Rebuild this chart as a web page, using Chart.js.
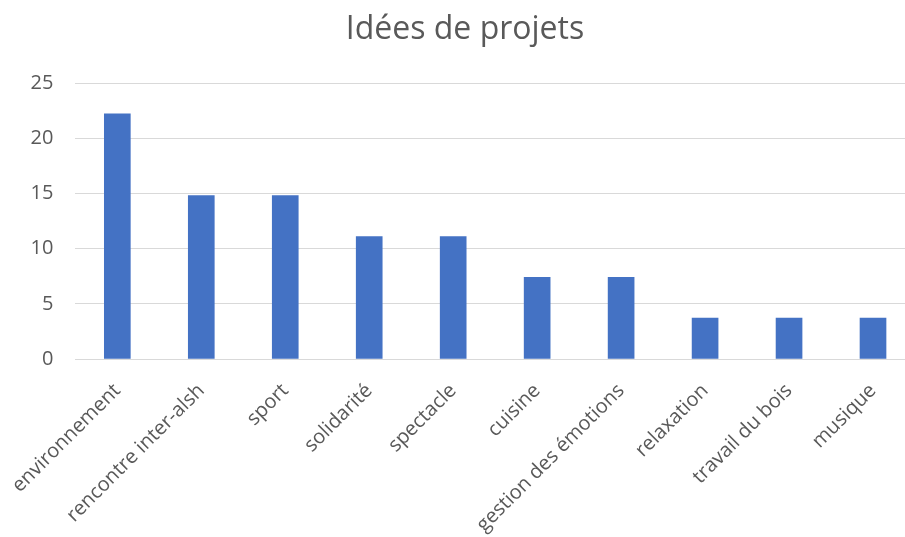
<!DOCTYPE html>
<html>
<head>
<meta charset="utf-8">
<script src="https://cdn.jsdelivr.net/npm/chart.js@4/dist/chart.umd.min.js"></script>
<style>
  html, body { margin: 0; padding: 0; background: #fff; overflow: hidden; }
  #wrap { width: 930px; height: 537px; }
</style>
</head>
<body>
<div id="wrap"><canvas id="chart" width="930" height="537"></canvas></div>
<script>
const categories = ['environnement', 'rencontre inter-alsh', 'sport', 'solidarité', 'spectacle',
  'cuisine', 'gestion des émotions', 'relaxation', 'travail du bois', 'musique'];
const values = [22.2, 14.8, 14.8, 11.1, 11.1, 7.4, 7.4, 3.7, 3.7, 3.7];
const yTicks = [0, 5, 10, 15, 20, 25];

const TEXT = '#595959';
const FONT = "'Open Sans', sans-serif";

const ctx = document.getElementById('chart').getContext('2d');
new Chart(ctx, {
  type: 'bar',
  data: {
    labels: categories,
    datasets: [{ data: values, backgroundColor: '#4472C4', barThickness: 26 }],
  },
  options: {
    responsive: false,
    animation: false,
    layout: { padding: 0 },
    plugins: {
      legend: { display: false },
      tooltip: { enabled: false },
      title: {
        display: true,
        text: 'Idées de projets',
        color: TEXT,
        font: { family: FONT, size: 32, weight: 'normal' },
        padding: { top: 11, bottom: 33.6 },
      },
    },
    scales: {
      x: {
        grid: { display: false },
        border: { display: false },
        ticks: {
          color: TEXT, font: { family: FONT, size: 20 },
          minRotation: 45, maxRotation: 45, padding: 12, autoSkip: false,
        },
        afterFit: s => { s.height = 178; },
      },
      y: {
        min: 0, max: 25,
        afterBuildTicks: s => { s.ticks = yTicks.map(v => ({ value: v })); },
        grid: { color: '#D9D9D9', lineWidth: 1, drawTicks: false },
        border: { display: false },
        ticks: { color: TEXT, font: { family: FONT, size: 20 }, padding: 22 },
        afterFit: s => { s.width = 75; },
      },
      // empty right margin so the title stays centred on the whole chart
      yRight: {
        position: 'right',
        grid: { display: false },
        border: { display: false },
        ticks: { display: false },
        afterFit: s => { s.width = 15; },
      },
    },
  },
});
</script>
</body>
</html>
